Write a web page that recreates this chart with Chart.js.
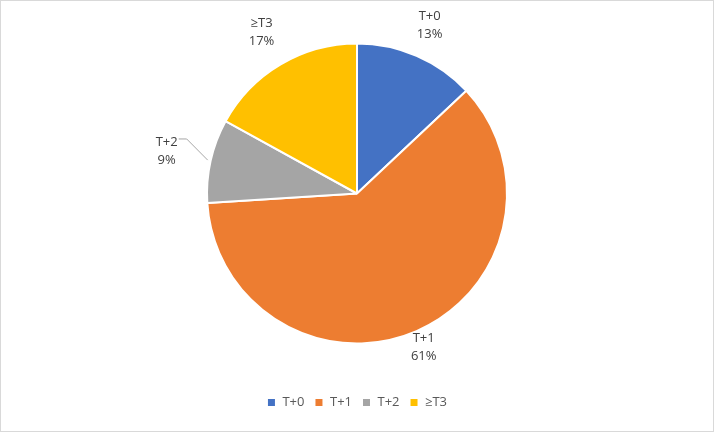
<!DOCTYPE html>
<html><head><script src="https://cdn.jsdelivr.net/npm/chart.js@4"></script>
<style>body{margin:0;background:#fff}#w{width:712px;height:430px;border:1px solid #d9d9d9}</style></head>
<body><div id="w"><canvas id="c"></canvas></div>
<script>
const categories=["T+0","T+1","T+2","≥T3"];
const values=[13,61,9,17];
const colors=["#4472c4","#ed7d31","#a5a5a5","#ffc000"];
const labelPlugin={id:"lbl",afterDraw(ch){
 const ctx=ch.ctx;const meta=ch.getDatasetMeta(0);
 ctx.save();ctx.font="13px 'Open Sans', sans-serif";ctx.fillStyle="#404040";ctx.textAlign="center";ctx.textBaseline="middle";
 const f=[1.22,1.12,1.3,1.25];
 meta.data.forEach((a,i)=>{const m=(a.startAngle+a.endAngle)/2;const r=a.outerRadius*f[i];
  const x=a.x+Math.cos(m)*r,y=a.y+Math.sin(m)*r;
  if(i==2){ctx.strokeStyle="#a6a6a6";ctx.beginPath();ctx.moveTo(a.x+Math.cos(m)*a.outerRadius*1.02,a.y+Math.sin(m)*a.outerRadius*1.02);ctx.lineTo(x+20,y-12);ctx.lineTo(x+12,y-12);ctx.stroke();}
  ctx.fillText(categories[i],x,y-9);ctx.fillText(values[i]+"%",x,y+9);});
 ctx.restore();}};
new Chart(document.getElementById("c"),{type:"pie",data:{labels:categories,datasets:[{data:values,backgroundColor:colors,borderColor:"#fff",borderWidth:2}]},
options:{responsive:true,maintainAspectRatio:false,animation:false,radius:150,layout:{padding:{top:0,bottom:12}},
plugins:{tooltip:{enabled:false},legend:{position:"bottom",labels:{boxWidth:9,boxHeight:9,padding:10,color:"#595959",font:{size:13,family:"'Open Sans', sans-serif"}}}}},plugins:[labelPlugin]});
</script></body></html>
